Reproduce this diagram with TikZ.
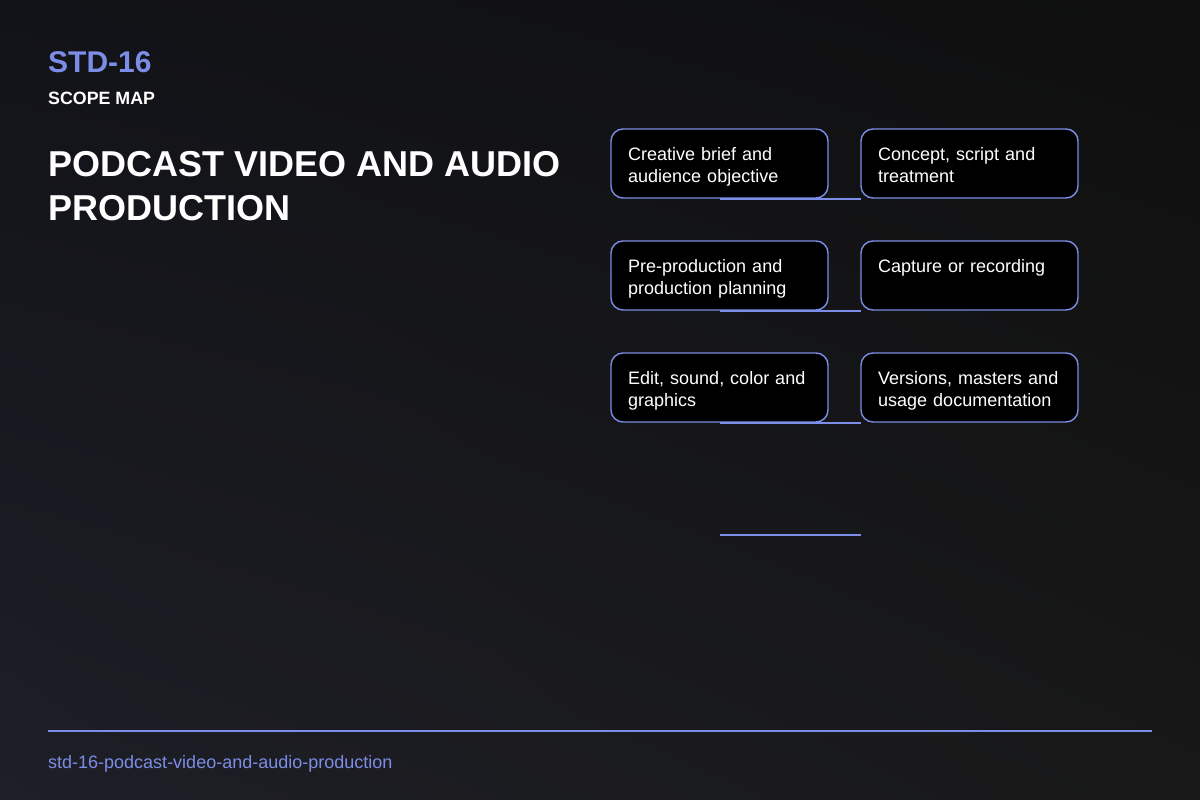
\documentclass[tikz,border=0pt]{standalone}
\usepackage{fontspec}
\setmainfont{Liberation Sans}
\usetikzlibrary{shadings}
\definecolor{accent}{HTML}{7B8DE6}
\definecolor{bgTL}{HTML}{121318}
\definecolor{bgBL}{HTML}{1E1F27}
\definecolor{bgTR}{HTML}{0F0F0F}
\definecolor{bgBR}{HTML}{181818}
\tikzset{
  box/.style={draw=accent, line width=1.4pt, fill=black, rounded corners=12pt,
    minimum width=217pt, minimum height=69pt, inner sep=0pt, outer sep=0pt, anchor=north west},
  boxtext/.style={anchor=north west, inner sep=0pt, text width=195pt, align=left,
    text=white, font=\fontsize{18}{22}\selectfont},
  link/.style={draw=accent, line width=1.8pt}
}
\begin{document}
\begin{tikzpicture}[x=1pt,y=-1pt]
\useasboundingbox (0,0) rectangle (1200,800);
\shade[upper left=bgTL, lower left=bgBL, upper right=bgTR, lower right=bgBR] (0,0) rectangle (1200,800);
% header
\node[anchor=base west, inner sep=0pt, text=accent, font=\fontsize{30}{34}\selectfont\bfseries] (code) at (48,72.5) {STD-16};
\node[anchor=base west, inner sep=0pt, text=white, font=\fontsize{17.8}{20}\selectfont\bfseries] (kind) at (48,104) {SCOPE MAP};
\node[anchor=base west, inner sep=0pt, text=white, font=\fontsize{36}{44}\selectfont\bfseries] (title1) at (48,176) {PODCAST VIDEO AND AUDIO};
\node[anchor=base west, inner sep=0pt, text=white, font=\fontsize{36}{44}\selectfont\bfseries] (title2) at (48,220) {PRODUCTION};
% boxes
\node[box] (b1) at (611,129) {};
\node[box] (b2) at (861,129) {};
\node[box] (b3) at (611,241) {};
\node[box] (b4) at (861,241) {};
\node[box] (b5) at (611,353) {};
\node[box] (b6) at (861,353) {};
% links
\draw[link] ([yshift=-1pt]b1.south) -- ([yshift=-1pt]b2.south west);
\draw[link] ([yshift=-1pt]b3.south) -- ([yshift=-1pt]b4.south west);
\draw[link] ([yshift=-1pt]b5.south) -- ([yshift=-1pt]b6.south west);
\coordinate (l4s) at (720,535);
\coordinate (r4s) at (861,535);
\draw[link] (l4s) -- (r4s);
% texts
\node[boxtext] (t1) at ([shift={(17,16.3)}]b1.north west) {\strut Creative brief and\\audience objective};
\node[boxtext] (t2) at ([shift={(17,16.3)}]b2.north west) {\strut Concept, script and\\treatment};
\node[boxtext] (t3) at ([shift={(17,16.3)}]b3.north west) {\strut Pre-production and\\production planning};
\node[boxtext] (t4) at ([shift={(17,16.3)}]b4.north west) {\strut Capture or recording};
\node[boxtext] (t5) at ([shift={(17,16.3)}]b5.north west) {\strut Edit, sound, color and\\graphics};
\node[boxtext] (t6) at ([shift={(17,16.3)}]b6.north west) {\strut Versions, masters and\\usage documentation};
% footer
\coordinate (fl) at (48,731);
\coordinate (fr) at (1152,731);
\draw[accent, line width=2pt] (fl) -- (fr);
\node[anchor=base west, inner sep=0pt, text=accent, font=\fontsize{18}{22}\selectfont] (slug) at (48,768) {std-16-podcast-video-and-audio-production};
\end{tikzpicture}
\end{document}
